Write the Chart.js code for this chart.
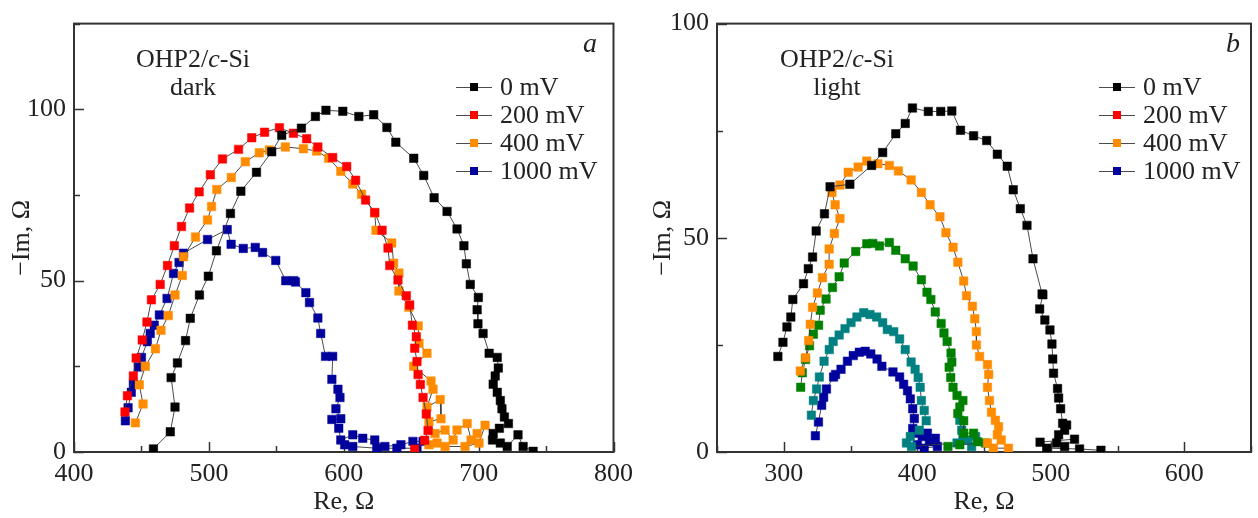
<!DOCTYPE html>
<html>
<head>
<meta charset="utf-8">
<script src="https://cdn.jsdelivr.net/npm/chart.js@4.4.1/dist/chart.umd.min.js"></script>
<style>
  html, body { margin: 0; padding: 0; background: #fff; }
  #wrap { position: relative; width: 1258px; height: 518px; overflow: hidden; }
  canvas { position: absolute; top: 0; }
  #darkChart { left: 0; }
  #lightChart { left: 640px; }
</style>
</head>
<body>
<div id="wrap">
  <canvas id="darkChart" width="640" height="518"></canvas>
  <canvas id="lightChart" width="618" height="518"></canvas>
</div>
<script>
// ---- dark, Re / -Im in Ohm ----
const dark0Re = [458.9, 471.4, 474.9, 472, 476.7, 482.7, 486.2, 493, 499.6, 505.6, 516, 523.7, 535.3, 546.6, 554, 568.6, 579, 586.8, 599.3, 611.2, 622.2, 632, 638.6, 651.9, 659.3, 667, 676.6, 684, 689.1, 690.9, 693.8, 699.8, 698.9, 699.5, 703.3, 707.8, 713.8, 714.6, 712.3, 710.8, 713.8, 716.1, 717.3, 719.1, 722.1, 715.4, 710.8, 710.3, 716.1, 721.2, 729.2, 733, 740.4];
const dark0Im = [0.9, 5.9, 13.1, 21.7, 26, 32.5, 39, 45.8, 51.3, 58.7, 69.6, 76.1, 81.6, 87.6, 92.4, 94.5, 97.9, 99.7, 99.4, 97.9, 98.4, 94.7, 90.4, 85.7, 80.7, 74.2, 70.2, 65.1, 60.2, 54.9, 48.9, 45.1, 41.5, 37.4, 34.6, 28.8, 27.6, 24.5, 22.2, 19.8, 17.4, 15, 12.6, 10.2, 8.3, 6.9, 5.4, 3.5, 2.6, 1.6, 5, 1.6, 0.2];

const dark200Re = [437.8, 439.6, 444, 446.1, 450.6, 454.1, 457.4, 463.9, 469.3, 474.4, 479.7, 485.7, 492.8, 501.1, 510.1, 522, 531.8, 541.3, 552.3, 562.7, 572.5, 580.8, 591.8, 602.2, 608.8, 616.2, 623, 628.4, 632.8, 634.1, 640.2, 646.4, 648.9, 650.9, 653.8, 652.6, 654.3, 655.1, 656.8, 658.8, 661.2, 662.5, 660, 652.6];
const dark200Im = [11.7, 16.4, 22.2, 27.4, 32.7, 37.9, 44.4, 48.9, 54.4, 60.2, 65.8, 71.2, 75.9, 80.9, 85.5, 88.3, 91.7, 93.3, 94.6, 93, 91.4, 89, 85.9, 83.3, 79.3, 73.5, 69.9, 64.7, 59.5, 54.4, 50.2, 45.6, 42.9, 37, 33.6, 30.3, 26.4, 22.6, 19.7, 15.9, 11.1, 6.3, 3.4, 0.8];

const dark400Re = [445.5, 451.2, 448.4, 452.9, 460.4, 464.5, 469.9, 474.9, 480.3, 481.2, 490.1, 499, 502, 505.9, 516.6, 527, 537.4, 544.8, 556.7, 570.1, 579.9, 588.8, 597.8, 606.7, 613.2, 623, 623.9, 635.6, 637, 640.9, 640.9, 648.3, 655.2, 655.8, 661.7, 651.9, 664.7, 666.2, 661.7, 671.5, 672.1, 663.2, 667.7, 675.1, 681.1, 684, 691.5, 694.4, 698.9, 704.8, 700.3, 689.9, 675.1, 669.2, 663.2];
const dark400Im = [8.5, 14, 19.6, 25, 30.1, 35.5, 39.8, 45.8, 51.5, 57, 62.7, 67.7, 71.6, 76.6, 80.1, 84.7, 87.3, 88.1, 89, 88.5, 87.8, 85.7, 81.9, 78.2, 75.2, 69.7, 64.7, 61, 55.1, 52.2, 47, 42.2, 36.8, 31.7, 28.8, 25, 20.7, 18.3, 13.1, 15.3, 9.7, 8.8, 5.4, 6.4, 3.5, 6.4, 8.3, 3.5, 5.4, 7.8, 2.6, 1.6, 1.6, 2.6, 2.1];

const dark1000Re = [438.1, 440.1, 442.5, 444, 447.6, 450, 454.4, 456.5, 459.5, 463.3, 469, 473.8, 477.9, 481.2, 499, 513.6, 516.5, 525.5, 534.4, 539.8, 549.6, 557, 563, 564.2, 571.9, 574.6, 580.8, 582.9, 586.5, 591.8, 591.2, 595.7, 597.2, 594.2, 597.8, 591.2, 596.3, 597.8, 606.7, 614.1, 623, 630.5, 642.4, 651.3, 658.8, 654.3, 639.4, 624.5, 606.7, 600.7];
const dark1000Im = [9.1, 12.9, 17.4, 19.8, 24.8, 27.6, 32.2, 34.6, 37, 40, 44.8, 52.1, 55.3, 58, 62, 64.9, 60.6, 59.4, 59.7, 58.2, 55.9, 50, 50, 49.6, 46.5, 43.6, 39.1, 34.6, 27.9, 27.9, 21.2, 18.3, 15.9, 12.6, 9.7, 9.5, 6.9, 3.5, 5, 4, 3.5, 1.6, 2.1, 3.1, 3.1, 1.1, 1.1, 1.1, 1.6, 2.1];

// ---- light ----
const light0Re = [295.6, 299.4, 302.4, 305.3, 306.8, 314.8, 318.4, 321.6, 324.3, 330.5, 334.7, 349.5, 365.8, 374.1, 383.9, 391, 396.4, 408.3, 417.6, 425.9, 432.4, 442.2, 452, 460, 467.4, 471.9, 477.2, 482.2, 486.7, 493.5, 494.1, 491.7, 495.6, 499.4, 500.9, 501.5, 502.1, 505.1, 505.9, 507.4, 508.9, 510.4, 511.9, 505.9, 504.4, 510.4, 517.8, 492, 497, 521.6, 537.6];
const light0Im = [22.3, 25.6, 29.2, 31.5, 35.6, 39.3, 42.8, 45.5, 51.6, 55.6, 61.9, 62.5, 66.9, 69.9, 74.3, 76.7, 80.3, 79.5, 79.5, 79.6, 75.1, 73.8, 72.7, 69.5, 66.7, 61.2, 56.8, 52.9, 45.1, 36.9, 36.7, 33.4, 30.8, 28.5, 25.2, 21.7, 18.4, 14.8, 12.6, 10.1, 6.7, 5.1, 6.3, 4, 2.1, 1.3, 3, 2.3, 0.9, 0.7, 0.4];

const light400Re = [312.4, 316.3, 318.7, 319.9, 321.6, 325.2, 329, 334, 334, 337.9, 342.1, 338.5, 336.1, 342.1, 348.3, 355.7, 362.2, 370.5, 379.1, 385.9, 395.4, 403.1, 409.6, 417, 421.5, 426.8, 430.4, 434.8, 436.9, 441.3, 443.1, 444.3, 444.3, 446.7, 452.6, 453.5, 452.6, 454.1, 455.6, 458.5, 460.9, 460, 462.9, 468.3, 457, 452.6];
const light400Im = [18.9, 22, 26, 29.8, 33.8, 37.1, 40.7, 43.8, 47.4, 51, 54.5, 57.7, 60.6, 62.3, 65.3, 66.5, 67.9, 67.3, 66.9, 65.6, 63.5, 60.6, 57.7, 54.9, 51.2, 47.8, 44.3, 39.9, 36.5, 34, 31.1, 28.1, 25, 22.3, 20.4, 18.1, 15.1, 12, 9.3, 7.4, 5.9, 4, 2.8, 0.9, 0.9, 2.1];

const lightGreenRe = [312.7, 313.9, 316.3, 319.3, 322.2, 326.1, 327.3, 331.7, 336.5, 341.5, 345.3, 353.9, 362.2, 366.7, 371.7, 379.1, 383.9, 391, 396.9, 403.1, 407.3, 410.2, 413.5, 417.9, 420, 422.4, 425.3, 425.9, 423.9, 425.1, 426.8, 429.8, 434.2, 431.9, 430.4, 434.8, 434.8, 442.2, 445.2, 451.1, 431.9, 423];
const lightGreenIm = [15.1, 18.5, 21.6, 24.8, 27.5, 29.6, 33.1, 35.7, 38.4, 40.9, 44.1, 46.8, 48.6, 48.7, 48.1, 48.9, 47.1, 45.1, 43.4, 40.2, 37.3, 35.6, 32.7, 30, 27.8, 25.8, 23.1, 21, 19.8, 17.4, 15.1, 13.2, 12, 10.5, 9, 7.3, 4.4, 4.4, 2.4, 2.1, 1.7, 1.3];

const lightTealRe = [320.7, 322.2, 324.6, 326.7, 330.2, 334.1, 337, 341.5, 345.9, 350.4, 354.8, 359.9, 364.6, 369.6, 374.1, 377.6, 382.4, 386.8, 391, 395.4, 398.4, 400.7, 402.2, 403.1, 405.2, 406.7, 401.6, 394.8, 391.9, 395.7, 429.8, 434.2, 431.9, 433.3, 437.8, 443.7, 440.7];
const lightTealIm = [8.6, 12, 14.7, 17.5, 21.2, 23.9, 25.8, 27.3, 28.8, 30.2, 31.5, 32.5, 32.1, 31.5, 30.2, 28.6, 28.1, 26.4, 23.9, 21, 19.3, 17.4, 15.1, 12, 9.7, 7.3, 5.1, 3.6, 2.1, 1.3, 2.1, 3.6, 7.4, 5.1, 2.8, 3.6, 1.3];

const light1000Re = [323.7, 326, 328.4, 329.9, 332, 337.3, 338.8, 342.9, 347.7, 352.1, 356.6, 361, 365.2, 369.9, 373.5, 381.8, 386.8, 389.8, 392.7, 394.8, 396.6, 397.8, 396.6, 400.1, 403.7, 407.6, 409.1, 413.6, 415.1, 405.2, 400.1];
const light1000Im = [3.8, 7, 10.9, 12.8, 14.7, 17.5, 18.1, 19.3, 21.2, 22.5, 23.3, 23.5, 22.9, 21.7, 20, 18.7, 17.5, 15.8, 14.3, 12.4, 10.1, 7.8, 5.5, 4.4, 3.6, 4.4, 2.4, 3.2, 1.3, 0.9, 1.7];

const legendLabels = ['0 mV', '200 mV', '400 mV', '1000 mV'];

const FONT = 'Liberation Serif';
const INK = '#222';
const LINE = 'rgba(55,55,55,0.9)';
const COLORS = {
  black: '#000000', red: '#ff0000', orange: '#ff8c00',
  blue: '#00009c', green: '#008000', teal: '#008080'
};

function zip(re, im) {
  return re.map((x, i) => ({ x: x, y: im[i] }));
}

function series(label, re, im, color, inLegend) {
  return {
    label: label,
    data: zip(re, im),
    showLine: true,
    borderColor: LINE,
    borderWidth: 1,
    tension: 0,
    pointStyle: 'rect',
    pointRadius: 6,
    pointBackgroundColor: color,
    pointBorderColor: color,
    pointBorderWidth: 0.5,
    inLegend: inLegend,
    markColor: color
  };
}

// frame, inward ticks, legend and notes drawn straight on the canvas
const decor = {
  id: 'decor',
  beforeDatasetsDraw(chart) {
    const { ctx, chartArea: a } = chart;
    const xs = chart.scales.x, ys = chart.scales.y;
    ctx.save();
    ctx.strokeStyle = '#333';
    ctx.lineWidth = 1.5;
    xs.ticks.forEach(t => {
      const px = Math.round(xs.getPixelForValue(t.value)) + 0.5;
      const len = t.value % 100 === 0 ? 10 : 6;
      ctx.beginPath(); ctx.moveTo(px, a.bottom); ctx.lineTo(px, a.bottom - len); ctx.stroke();
    });
    ys.ticks.forEach(t => {
      const py = Math.round(ys.getPixelForValue(t.value)) + 0.5;
      const len = t.value % 50 === 0 ? 10 : 6;
      ctx.beginPath(); ctx.moveTo(a.left, py); ctx.lineTo(a.left + len, py); ctx.stroke();
    });
    ctx.lineWidth = 2;
    ctx.strokeRect(a.left, a.top, a.right - a.left, a.bottom - a.top);
    ctx.restore();
  },
  afterDraw(chart, args, opts) {
    const ctx = chart.ctx;
    ctx.save();
    ctx.textBaseline = 'middle';

    // legend: line - marker - line, then the label
    let row = 0;
    chart.data.datasets.forEach(ds => {
      if (!ds.inLegend) return;
      const y = opts.legendY + row * opts.legendStep;
      const x0 = opts.legendX;
      ctx.strokeStyle = LINE;
      ctx.lineWidth = 1;
      ctx.beginPath(); ctx.moveTo(x0, y + 0.5); ctx.lineTo(x0 + 36, y + 0.5); ctx.stroke();
      ctx.fillStyle = ds.markColor;
      ctx.fillRect(x0 + 14, y - 4, 8, 8);
      ctx.fillStyle = INK;
      ctx.font = '26px "' + FONT + '"';
      ctx.textAlign = 'left';
      ctx.fillText(ds.label, x0 + 44, y + 1);
      row++;
    });

    // sample note: OHP2/c-Si with italic c
    const parts = [['OHP2/', ''], ['c', 'italic '], ['-Si', '']];
    let w = 0;
    parts.forEach(p => { ctx.font = p[1] + '26px "' + FONT + '"'; w += ctx.measureText(p[0]).width; });
    let x = opts.noteX - w / 2;
    ctx.fillStyle = INK;
    ctx.textAlign = 'left';
    parts.forEach(p => {
      ctx.font = p[1] + '26px "' + FONT + '"';
      ctx.fillText(p[0], x, opts.noteY);
      x += ctx.measureText(p[0]).width;
    });
    ctx.font = '26px "' + FONT + '"';
    ctx.textAlign = 'center';
    ctx.fillText(opts.note2, opts.noteX, opts.noteY + 28);

    // panel letter
    ctx.font = 'italic 28px "' + FONT + '"';
    ctx.fillText(opts.letter, opts.letterX, 45);
    ctx.restore();
  }
};

function makePanel(canvasId, datasets, xRange, yMax, pad, yAxisWidth, yTitlePad, deco) {
  return new Chart(document.getElementById(canvasId), {
    type: 'scatter',
    data: { datasets: datasets },
    options: {
      responsive: false,
      animation: false,
      events: [],
      layout: { padding: pad },
      plugins: {
        legend: { display: false },
        tooltip: { enabled: false },
        decor: deco
      },
      scales: {
        x: {
          type: 'linear',
          min: xRange[0],
          max: xRange[1],
          afterFit: s => { s.height = 66; },
          grid: { display: false, drawTicks: false },
          border: { display: false },
          ticks: {
            stepSize: 50,
            autoSkip: false,
            maxRotation: 0,
            padding: 7,
            color: INK,
            font: { family: FONT, size: 26 },
            callback: v => (v % 100 === 0 ? String(v) : '')
          },
          title: {
            display: true,
            text: 'Re, \u03A9',
            color: INK,
            padding: { top: 1, bottom: 0 },
            font: { family: FONT, size: 26 }
          }
        },
        y: {
          type: 'linear',
          min: 0,
          max: yMax,
          afterFit: s => { s.width = yAxisWidth; },
          grid: { display: false, drawTicks: false },
          border: { display: false },
          ticks: {
            stepSize: 25,
            autoSkip: false,
            padding: 8,
            color: INK,
            font: { family: FONT, size: 26 },
            callback: v => (v % 50 === 0 ? String(v) : '')
          },
          title: {
            display: true,
            text: '\u2212Im, \u03A9',
            color: INK,
            padding: { top: yTitlePad, bottom: 0 },
            font: { family: FONT, size: 26 }
          }
        }
      }
    },
    plugins: [decor]
  });
}

makePanel('darkChart', [
  series(legendLabels[0], dark0Re, dark0Im, COLORS.black, true),
  series(legendLabels[1], dark200Re, dark200Im, COLORS.red, true),
  series(legendLabels[2], dark400Re, dark400Im, COLORS.orange, true),
  series(legendLabels[3], dark1000Re, dark1000Im, COLORS.blue, true)
], [400, 800], 125, { left: 0, right: 26, top: 17, bottom: 0 }, 74, 7,
  { legendX: 456, legendY: 87, legendStep: 28, noteX: 193, noteY: 60, note2: 'dark', letter: 'a', letterX: 590 });

makePanel('lightChart', [
  series(legendLabels[0], light0Re, light0Im, COLORS.black, true),
  series(legendLabels[1], [], [], COLORS.red, true),
  series(legendLabels[2], light400Re, light400Im, COLORS.orange, true),
  series('', lightGreenRe, lightGreenIm, COLORS.green, false),
  series('', lightTealRe, lightTealIm, COLORS.teal, false),
  series(legendLabels[3], light1000Re, light1000Im, COLORS.blue, true)
], [250, 650], 100, { left: 0, right: 1, top: 17, bottom: 0 }, 77, 8,
  { legendX: 459, legendY: 87, legendStep: 28, noteX: 197, noteY: 60, note2: 'light', letter: 'b', letterX: 593 });
</script>
</body>
</html>
